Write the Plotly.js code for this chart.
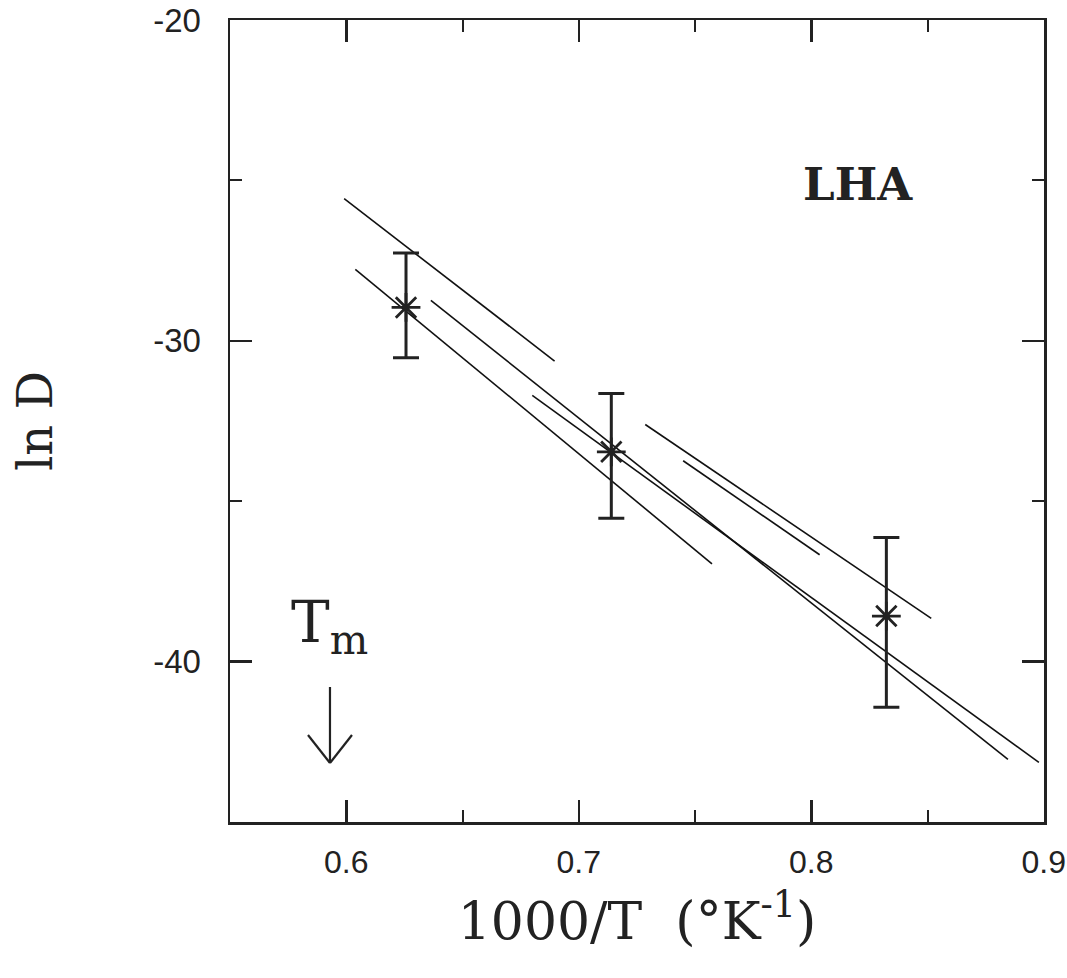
<!DOCTYPE html>
<html>
<head>
<meta charset="utf-8">
<script src="https://cdn.plot.ly/plotly-3.0.1.min.js"></script>
<style>html,body{margin:0;padding:0;background:#fff;}#chart{width:1067px;height:978px;}</style>
</head>
<body>
<div id="chart"></div>
<script>
// Measured points (1000/T, ln D) with error bars
const ptX = [0.6257, 0.714, 0.8323];
const ptY = [-28.96, -33.46, -38.58];
const errPlus = [1.70, 1.82, 2.45];
const errMinus = [1.57, 2.07, 2.84];

// Fitted line segments (endpoints in data units)
const lineA_x = [0.5991, 0.6896];
const lineA_y = [-25.57, -30.63];
const lineB_x = [0.6039, 0.7573];
const lineB_y = [-27.77, -36.95];
const lineC_x = [0.6364, 0.8846];
const lineC_y = [-28.74, -43.05];
const lineD_x = [0.7286, 0.8516];
const lineD_y = [-32.61, -38.65];
const lineE_x = [0.7449, 0.8036];
const lineE_y = [-33.74, -36.67];
const lineF_x = [0.6800, 0.8979];
const lineF_y = [-31.70, -43.14];

// Axis ticks
const xTickVals = [0.6, 0.7, 0.8, 0.9];
const xTickText = ['0.6', '0.7', '0.8', '0.9'];
const yTickVals = [-20, -30, -40];
const yTickText = ['-20', '-30', '-40'];

// Melting temperature marker position and label
const tmX = 0.593;
const tmTipY = -43.16;
const tmLabelY = -38.9;
const tmLabel = 'T<sub>m</sub>';
const panelLabel = 'LHA';
const panelX = 0.820;
const panelY = -25.14;

const lineStyle = {color: '#111', width: 1.6};
const segs = [[lineA_x, lineA_y], [lineB_x, lineB_y], [lineC_x, lineC_y],
              [lineD_x, lineD_y], [lineE_x, lineE_y], [lineF_x, lineF_y]];
const traces = segs.map(s => ({
  x: s[0], y: s[1], type: 'scatter', mode: 'lines',
  line: lineStyle, hoverinfo: 'skip', showlegend: false
}));
traces.push({
  x: ptX, y: ptY, type: 'scatter', mode: 'markers', showlegend: false,
  marker: {symbol: 'asterisk-open', size: 24, color: '#222', line: {color: '#222', width: 2.8}},
  error_y: {type: 'data', symmetric: false, array: errPlus, arrayminus: errMinus,
            color: '#222', thickness: 3, width: 13}
});

const serif = 'DejaVu Serif, serif';
const sans = 'Liberation Sans, Arial, sans-serif';

const arrowLine = {color: '#222', width: 2.2};
const arrowShape = (x1, y1) => ({
  type: 'line', xref: 'x', yref: 'y', xsizemode: 'pixel', ysizemode: 'pixel',
  xanchor: tmX, yanchor: tmTipY, x0: 0, y0: 0, x1: x1, y1: y1, line: arrowLine
});

const layout = {
  width: 1067, height: 978,
  paper_bgcolor: '#fff', plot_bgcolor: '#fff',
  margin: {l: 230, r: 23, t: 20, b: 156},
  showlegend: false,
  xaxis: {
    range: [0.55, 0.9001], showgrid: false, zeroline: false,
    showline: true, linecolor: '#222', linewidth: 2.5, mirror: 'ticks',
    ticks: 'inside', ticklen: 22, tickwidth: 2.5, tickcolor: '#222',
    tickvals: xTickVals, ticktext: xTickText,
    minor: {dtick: 0.05, tick0: 0.55, ticks: 'inside', ticklen: 12, tickwidth: 2, tickcolor: '#222'},
    tickfont: {family: sans, size: 32, color: '#222'},
    ticklabeloverflow: 'allow',
    ticklabelstandoff: 10,
    title: {text: '1000/T&nbsp; (°K<sup>-1</sup>)', font: {family: serif, size: 52, color: '#222'}, standoff: 24}
  },
  yaxis: {
    range: [-45, -20], showgrid: false, zeroline: false,
    showline: true, linecolor: '#222', linewidth: 2.5, mirror: 'ticks',
    ticks: 'inside', ticklen: 22, tickwidth: 2.5, tickcolor: '#222',
    tickvals: yTickVals, ticktext: yTickText,
    minor: {dtick: 5, tick0: -45, ticks: 'inside', ticklen: 12, tickwidth: 2, tickcolor: '#222'},
    tickfont: {family: sans, size: 33, color: '#222'},
    ticklabeloverflow: 'allow',
    ticklabelstandoff: 20,
    title: {text: 'ln D', font: {family: serif, size: 48, color: '#222'}, standoff: 86}
  },
  annotations: [
    {x: panelX, y: panelY, xref: 'x', yref: 'y', text: panelLabel, showarrow: false,
     font: {family: serif, size: 45, color: '#222', weight: 'bold'}},
    {x: tmX, y: tmLabelY, xref: 'x', yref: 'y', text: tmLabel, showarrow: false,
     font: {family: serif, size: 58, color: '#222'}}
  ],
  shapes: [arrowShape(0, 76), arrowShape(-22, 28), arrowShape(22, 28)]
};

Plotly.newPlot('chart', traces, layout, {displayModeBar: false, staticPlot: true});
</script>
</body>
</html>
